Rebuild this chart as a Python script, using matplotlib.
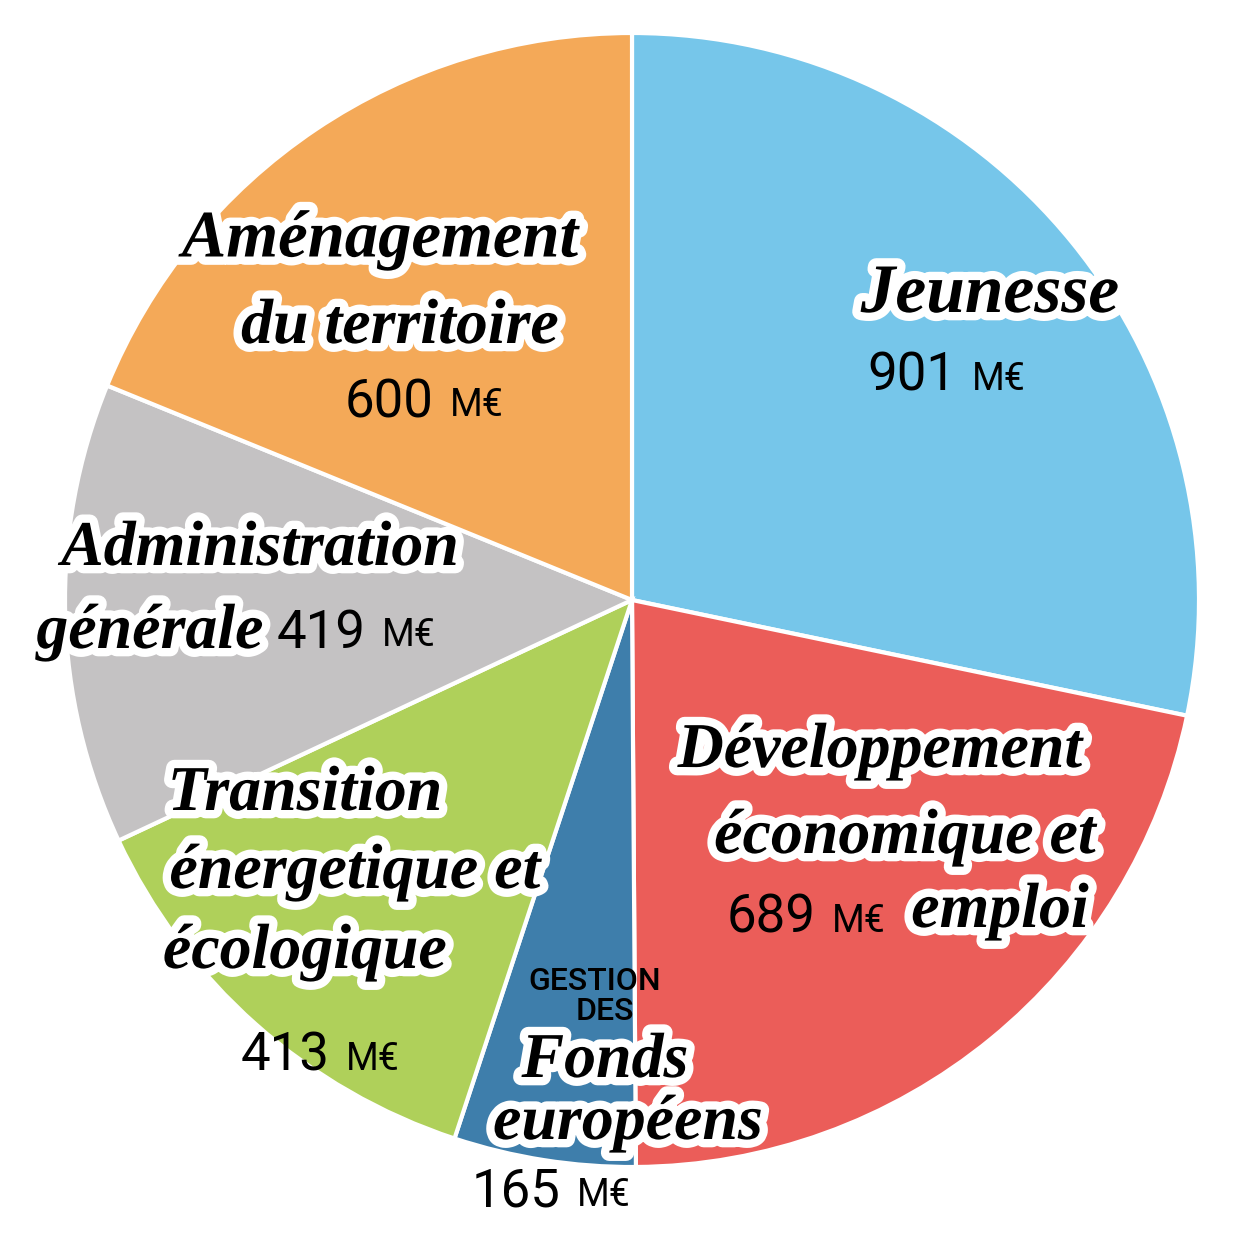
import matplotlib.pyplot as plt
import matplotlib.patheffects as pe

# Budget par mission (M€)
categories = ["Jeunesse", "Développement économique et emploi",
              "Gestion des fonds européens", "Transition énergétique et écologique",
              "Administration générale", "Aménagement du territoire"]
values = [901, 689, 165, 413, 419, 600]
colors = ["#76C6EA", "#EB5D59", "#3E7EAB", "#AFD05A", "#C4C2C3", "#F4A958"]

W = 1240
fig = plt.figure(figsize=(12.4, 12.4), dpi=100)
ax = fig.add_axes([0, 0, 1, 1])

# centre du camembert (pixels) et rayon
cx, cy, r = 632, 600, 567
ax.pie(values, colors=colors, startangle=90, counterclock=False, radius=1,
       wedgeprops=dict(edgecolor="white", linewidth=3))
ax.set_xlim(-cx / r, (W - cx) / r)
ax.set_ylim(-(W - cy) / r, cy / r)
ax.set_aspect("auto")
ax.axis("off")

script = dict(family=["Liberation Serif", "DejaVu Serif"], style="italic",
              weight="bold", color="black",
              path_effects=[pe.withStroke(linewidth=12, foreground="white")])


def px(x, y):
    return x / W, 1 - y / W


def title(x, y, s, size=46, ha="center"):
    fig.text(*px(x, y), s, fontsize=size, ha=ha, va="center", **script)


def amount(x_split, y, val):
    fig.text(*px(x_split - 6, y), str(val), fontsize=38, family="Roboto",
             ha="right", va="center")
    fig.text(*px(x_split + 10, y + 3), "M€", fontsize=27, family="Roboto",
             weight="normal", ha="left", va="center")


# Jeunesse
title(990, 295, "Jeunesse", 50)
amount(962, 376, values[0])

# Développement économique et emploi
title(880, 752, "Développement", 46)
title(905, 838, "économique et", 46)
title(1000, 912, "emploi", 46)
amount(822, 918, values[1])

# Gestion des fonds européens
fig.text(*px(595, 981), "GESTION", fontsize=23, family="Roboto",
         weight="medium", ha="center", va="center")
fig.text(*px(605, 1012), "DES", fontsize=23, family="Roboto",
         weight="medium", ha="center", va="center")
title(605, 1062, "Fonds", 46)
title(628, 1124, "européens", 46)
amount(567, 1192, values[2])

# Transition énergétique et écologique
title(305, 795, "Transition", 46)
title(355, 873, "énergetique et", 46)
title(305, 953, "écologique", 46)
amount(336, 1056, values[3])

# Administration générale
title(260, 550, "Administration", 46)
title(150, 633, "générale", 46)
amount(372, 633, values[4])

# Aménagement du territoire
title(380, 240, "Aménagement", 48)
title(400, 328, "du territoire", 46)
amount(440, 403, values[5])

fig.savefig("out.png", dpi=100, facecolor="white")
